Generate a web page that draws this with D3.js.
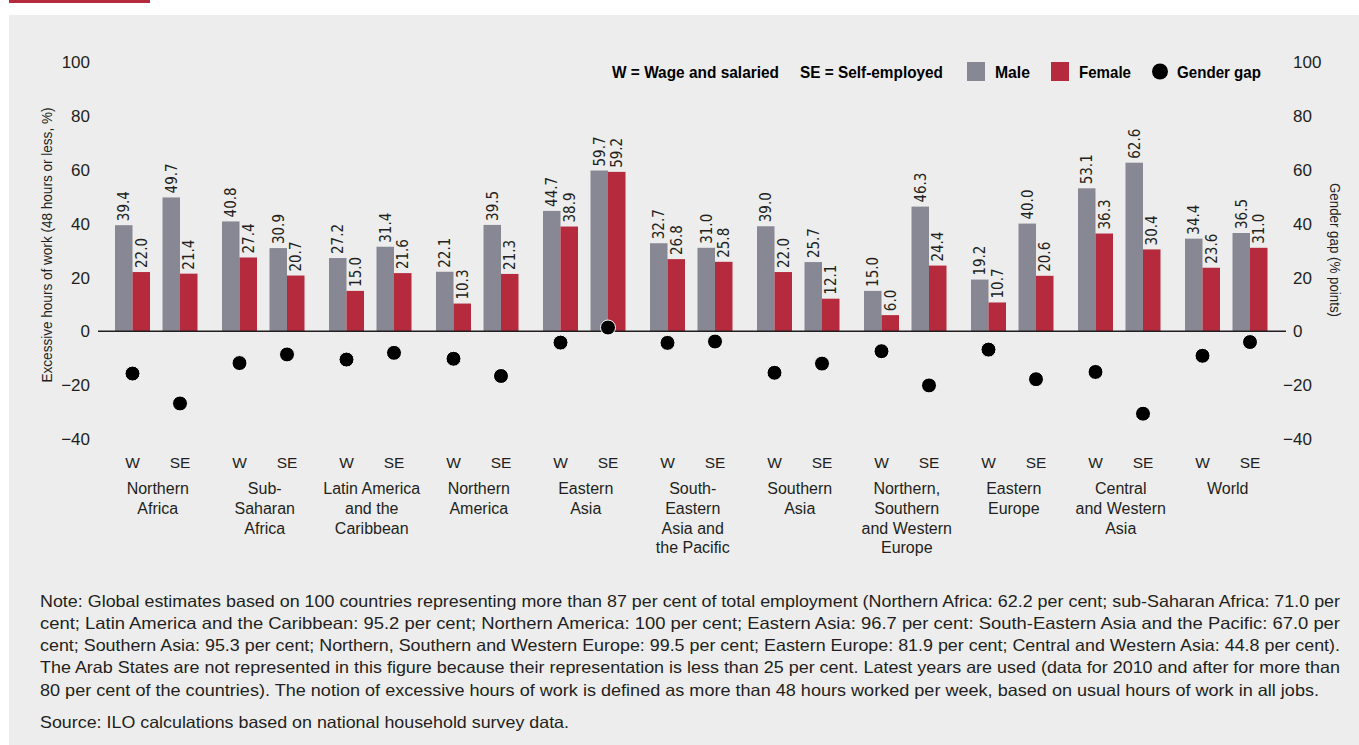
<!DOCTYPE html>
<html>
<head>
<meta charset="utf-8">
<script src="https://cdn.jsdelivr.net/npm/d3@7"></script>
<style>
  html, body { margin: 0; padding: 0; background: #fff; }
  svg { display: block; font-family: "Liberation Sans", Arial, sans-serif; }
</style>
</head>
<body>
<div id="chart"></div>
<script>
// Regions (x categories) and their wrapped labels
const regions = ["Northern Africa", "Sub-Saharan Africa", "Latin America and the Caribbean",
  "Northern America", "Eastern Asia", "South-Eastern Asia and the Pacific", "Southern Asia",
  "Northern, Southern and Western Europe", "Eastern Europe", "Central and Western Asia", "World"];
const regionLines = [["Northern", "Africa"], ["Sub-", "Saharan", "Africa"], ["Latin America", "and the", "Caribbean"],
  ["Northern", "America"], ["Eastern", "Asia"], ["South-", "Eastern", "Asia and", "the Pacific"],
  ["Southern", "Asia"], ["Northern,", "Southern", "and Western", "Europe"], ["Eastern", "Europe"],
  ["Central", "and Western", "Asia"], ["World"]];
const types = ["W", "SE"];
const sexes = ["Male", "Female"];

// Excessive hours of work (%)
const maleW    = [39.4, 40.8, 27.2, 22.1, 44.7, 32.7, 39.0, 15.0, 19.2, 53.1, 34.4];
const femaleW  = [22.0, 27.4, 15.0, 10.3, 38.9, 26.8, 22.0,  6.0, 10.7, 36.3, 23.6];
const maleSE   = [49.7, 30.9, 31.4, 39.5, 59.7, 31.0, 25.7, 46.3, 40.0, 62.6, 36.5];
const femaleSE = [21.4, 20.7, 21.6, 21.3, 59.2, 25.8, 12.1, 24.4, 20.6, 30.4, 31.0];
// Gender gap (% points)
const gapW  = [-15.7, -11.8, -10.5, -10.2, -4.2, -4.3, -15.4, -7.4, -6.8, -15.1, -9.1];
const gapSE = [-26.8, -8.6, -8.0, -16.6, 1.4, -3.8, -12.0, -20.1, -17.8, -30.6, -4.0];

const yTicks = [100, 80, 60, 40, 20, 0, -20, -40];

const noteLines = [
  "Note: Global estimates based on 100 countries representing more than 87 per cent of total employment (Northern Africa: 62.2 per cent; sub-Saharan Africa: 71.0 per",
  "cent; Latin America and the Caribbean: 95.2 per cent; Northern America:  100 per cent; Eastern Asia: 96.7 per cent: South-Eastern Asia and the Pacific: 67.0 per",
  "cent; Southern Asia: 95.3 per cent; Northern, Southern and Western Europe: 99.5 per cent; Eastern Europe: 81.9 per cent; Central and Western Asia: 44.8 per cent).",
  "The Arab States are not represented in this figure because their representation is less than 25 per cent. Latest years are used (data for 2010 and after for more than",
  "80 per cent of the countries). The notion of excessive hours of work is defined as more than 48 hours worked per week, based on usual hours of work in all jobs."
];
const noteWidths = [1300, 1300, 1300, 1300, 1279];
const sourceLine = "Source: ILO calculations based on national household survey data.";

// Build the flat table
const bars = [];
const dots = [];
regions.forEach((r, i) => {
  bars.push({ region: r, type: "W", sex: "Male", value: maleW[i] });
  bars.push({ region: r, type: "W", sex: "Female", value: femaleW[i] });
  bars.push({ region: r, type: "SE", sex: "Male", value: maleSE[i] });
  bars.push({ region: r, type: "SE", sex: "Female", value: femaleSE[i] });
  dots.push({ region: r, type: "W", value: gapW[i] });
  dots.push({ region: r, type: "SE", value: gapSE[i] });
});

const width = 1359, height = 745;
const colors = { Male: "#878894", Female: "#b52a3c" };
const narrow = '"DejaVu Sans Condensed", "Liberation Sans Narrow", "Liberation Sans", sans-serif';

const svg = d3.select("#chart").append("svg")
  .attr("width", width)
  .attr("height", height)
  .attr("viewBox", [0, 0, width, height]);

// Panel background and red top marker
svg.append("rect").attr("x", 9).attr("y", 15).attr("width", width - 9).attr("height", height - 15).attr("fill", "#ededed");
svg.append("rect").attr("x", 9).attr("y", 0).attr("width", 141).attr("height", 3).attr("fill", "#b52a3c");

// Scales
const x = d3.scaleBand().domain(regions).range([102.75, 1279.75]);
const xType = d3.scalePoint().domain(types).range([29.75, 77.25]);
const xSex = d3.scaleBand().domain(sexes).range([-17.5, 17.5]);
const y = d3.scaleLinear().domain([-40, 100]).range([439, 62]);

const cx = d => x(d.region) + xType(d.type);

// Tick labels, left (right aligned) and right (numbers left aligned, minus hanging)
const fmtAbs = v => String(Math.abs(v));
svg.append("g").selectAll("text")
  .data(yTicks).join("text")
  .attr("x", 90).attr("y", d => y(d)).attr("dy", "0.36em")
  .attr("text-anchor", "end")
  .attr("font-size", 17).attr("fill", "#231f20")
  .text(d => d < 0 ? "\u2212" + fmtAbs(d) : fmtAbs(d));

const rightTicks = svg.append("g").selectAll("g")
  .data(yTicks).join("g")
  .attr("transform", d => `translate(1293,${y(d)})`);
rightTicks.append("text")
  .attr("dy", "0.36em").attr("font-size", 17).attr("fill", "#231f20")
  .text(d => fmtAbs(d));
rightTicks.filter(d => d < 0).append("text")
  .attr("dy", "0.36em").attr("text-anchor", "end").attr("font-size", 17).attr("fill", "#231f20")
  .text("\u2212");

// Axis titles
svg.append("text")
  .attr("transform", `translate(52,${245}) rotate(-90)`)
  .attr("text-anchor", "middle").attr("font-size", 14).attr("fill", "#231f20")
  .attr("textLength", 275).attr("lengthAdjust", "spacingAndGlyphs")
  .text("Excessive hours of work (48 hours or less, %)");
svg.append("text")
  .attr("transform", `translate(1330,${250}) rotate(90)`)
  .attr("text-anchor", "middle").attr("font-size", 14).attr("fill", "#231f20")
  .attr("textLength", 134).attr("lengthAdjust", "spacingAndGlyphs")
  .text("Gender gap (% points)");

// Bars
svg.append("g").selectAll("rect")
  .data(bars).join("rect")
  .attr("x", d => cx(d) + xSex(d.sex))
  .attr("y", d => y(d.value))
  .attr("width", xSex.bandwidth())
  .attr("height", d => y(0) - y(d.value))
  .attr("fill", d => colors[d.sex]);

// Value labels, rotated
svg.append("g").selectAll("text")
  .data(bars).join("text")
  .attr("transform", d => `translate(${cx(d) + xSex(d.sex) + xSex.bandwidth() / 2},${y(d.value) - 4}) rotate(-90)`)
  .attr("dy", "0.35em")
  .attr("font-family", narrow).attr("font-size", 15).attr("fill", "#231f20")
  .text(d => d.value.toFixed(1));

// Zero line
svg.append("line")
  .attr("x1", 98).attr("x2", 1286)
  .attr("y1", y(0)).attr("y2", y(0))
  .attr("stroke", "#231f20").attr("stroke-width", 1.5);

// Gender gap dots
svg.append("g").selectAll("circle")
  .data(dots).join("circle")
  .attr("cx", cx)
  .attr("cy", d => y(d.value))
  .attr("r", 7.5)
  .attr("fill", "#000")
  .attr("stroke", "#fff").attr("stroke-width", 1);

// W / SE labels
svg.append("g").selectAll("text")
  .data(dots).join("text")
  .attr("x", cx).attr("y", 467.5)
  .attr("text-anchor", "middle").attr("font-size", 15.5).attr("fill", "#231f20")
  .text(d => d.type);

// Region labels
const regionG = svg.append("g").selectAll("text")
  .data(regions).join("text")
  .attr("text-anchor", "middle").attr("font-size", 16).attr("fill", "#231f20");
regionG.selectAll("tspan")
  .data((d, i) => regionLines[i].map(t => ({ t, r: d })))
  .join("tspan")
  .attr("x", d => x(d.r) + x.bandwidth() / 2 + 1.5)
  .attr("y", (d, j) => 494 + j * 19.8)
  .text(d => d.t);

// Legend
const legend = svg.append("g").attr("font-weight", "bold")
  .attr("font-size", 16.5).attr("fill", "#000").attr("lengthAdjust", "spacingAndGlyphs");
const legendText = (x0, w, t) => legend.append("text").attr("x", x0).attr("y", 77.5)
  .attr("textLength", w).attr("lengthAdjust", "spacingAndGlyphs").text(t);
legendText(612, 167, "W = Wage and salaried");
legendText(800, 143, "SE = Self-employed");
legend.append("rect").attr("x", 967).attr("y", 62).attr("width", 18).attr("height", 19).attr("fill", colors.Male);
legendText(995, 35, "Male");
legend.append("rect").attr("x", 1051).attr("y", 62).attr("width", 18).attr("height", 19).attr("fill", colors.Female);
legendText(1079, 52, "Female");
legend.append("circle").attr("cx", 1160).attr("cy", 71.5).attr("r", 8).attr("fill", "#000");
legendText(1177, 84, "Gender gap");

// Notes
const notes = svg.append("g").attr("font-size", 16.5).attr("fill", "#231f20");
notes.selectAll("text")
  .data(noteLines).join("text")
  .attr("x", 40).attr("y", (d, i) => 606.7 + i * 22.2)
  .attr("textLength", (d, i) => noteWidths[i]).attr("lengthAdjust", "spacingAndGlyphs")
  .text(d => d);
notes.append("text").attr("x", 40).attr("y", 728.3)
  .attr("textLength", 529).attr("lengthAdjust", "spacingAndGlyphs")
  .text(sourceLine);
</script>
</body>
</html>
